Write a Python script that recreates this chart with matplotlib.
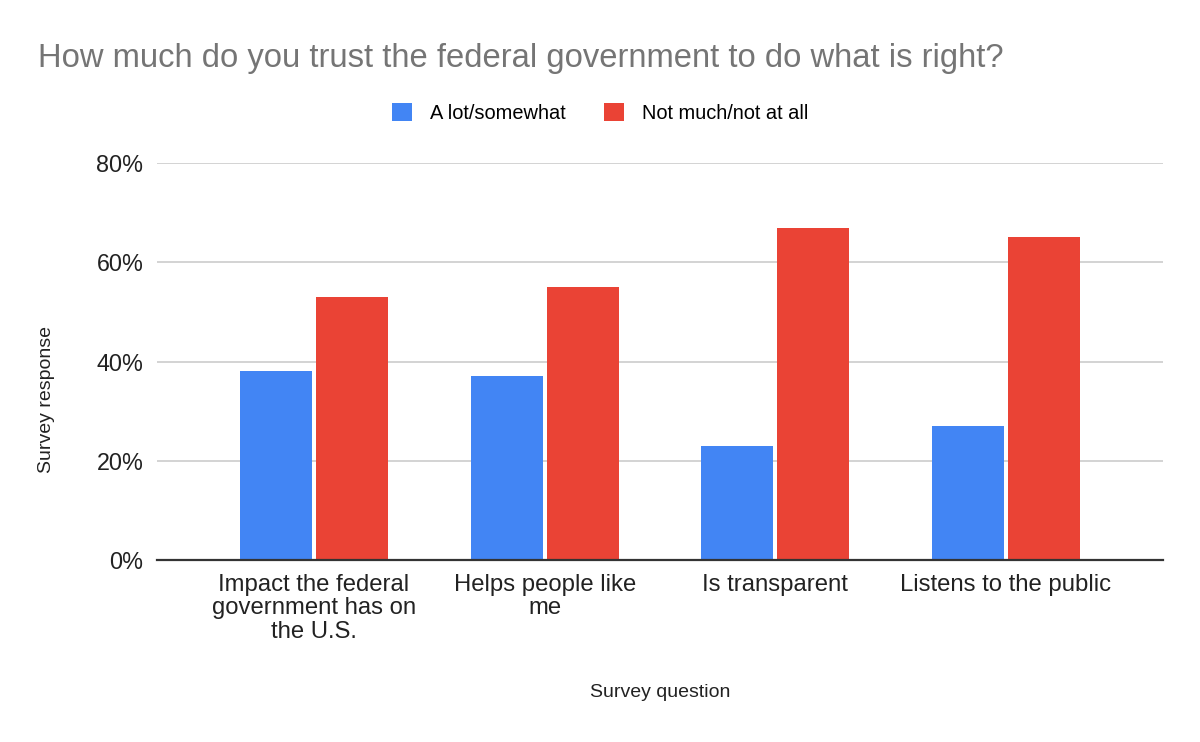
import matplotlib.pyplot as plt
import numpy as np

plt.rcParams['font.family'] = ['Liberation Sans', 'DejaVu Sans']

categories = ['Impact the federal\ngovernment has on\nthe U.S.', 'Helps people like\nme',
              'Is transparent', 'Listens to the public']
a_lot = [38, 37, 23, 27]
not_much = [53, 55, 67, 65]
series_names = ['A lot/somewhat', 'Not much/not at all']
yticks = [0, 20, 40, 60, 80]

fig = plt.figure(figsize=(12, 7.42), dpi=100)
ax = fig.add_axes([0.131, 0.2453, 0.838, 0.535])

x = np.arange(len(categories))
w = 0.312
gap = 0.009
b1 = ax.bar(x - w/2 - gap, a_lot, w, color='#4285F4', label=series_names[0], zorder=3)
b2 = ax.bar(x + w/2 + gap, not_much, w, color='#EA4335', label=series_names[1], zorder=3)

ax.set_xlim(-0.68, 3.68)
ax.set_ylim(0, 80)
ax.set_yticks(yticks)
ax.set_yticklabels([f'{v}%' for v in yticks])
ax.yaxis.grid(True, color='#cccccc', lw=1.2, zorder=0)
for s in ['top', 'right', 'left']:
    ax.spines[s].set_visible(False)
ax.spines['bottom'].set_color('#333333')
ax.spines['bottom'].set_linewidth(1.6)
ax.spines['bottom'].set_zorder(4)
ax.tick_params(axis='both', length=0, labelsize=16.8, colors='#222222')
ax.tick_params(axis='y', pad=10)
ax.tick_params(axis='x', pad=10, labelsize=17.2)
ax.set_xticks(x)
ax.set_xticklabels(categories, linespacing=1.08)

fig.text(0.032, 0.921, 'How much do you trust the federal government to do what is right?',
         fontsize=23.6, color='#757575', va='center', ha='left')
fig.text(0.039, 0.461, 'Survey response', rotation=90, fontsize=14, color='#222222',
         ha='center', va='center')
fig.text(0.55, 0.067, 'Survey question', fontsize=14, color='#222222', ha='center', va='center')

fig.legend(handles=[b1, b2], loc='center', bbox_to_anchor=(0.5, 0.848), ncol=2, frameon=False,
           fontsize=14.4, handlelength=1.0, handleheight=1.0, handletextpad=0.9, columnspacing=1.9)

plt.savefig('out.png', dpi=100)
